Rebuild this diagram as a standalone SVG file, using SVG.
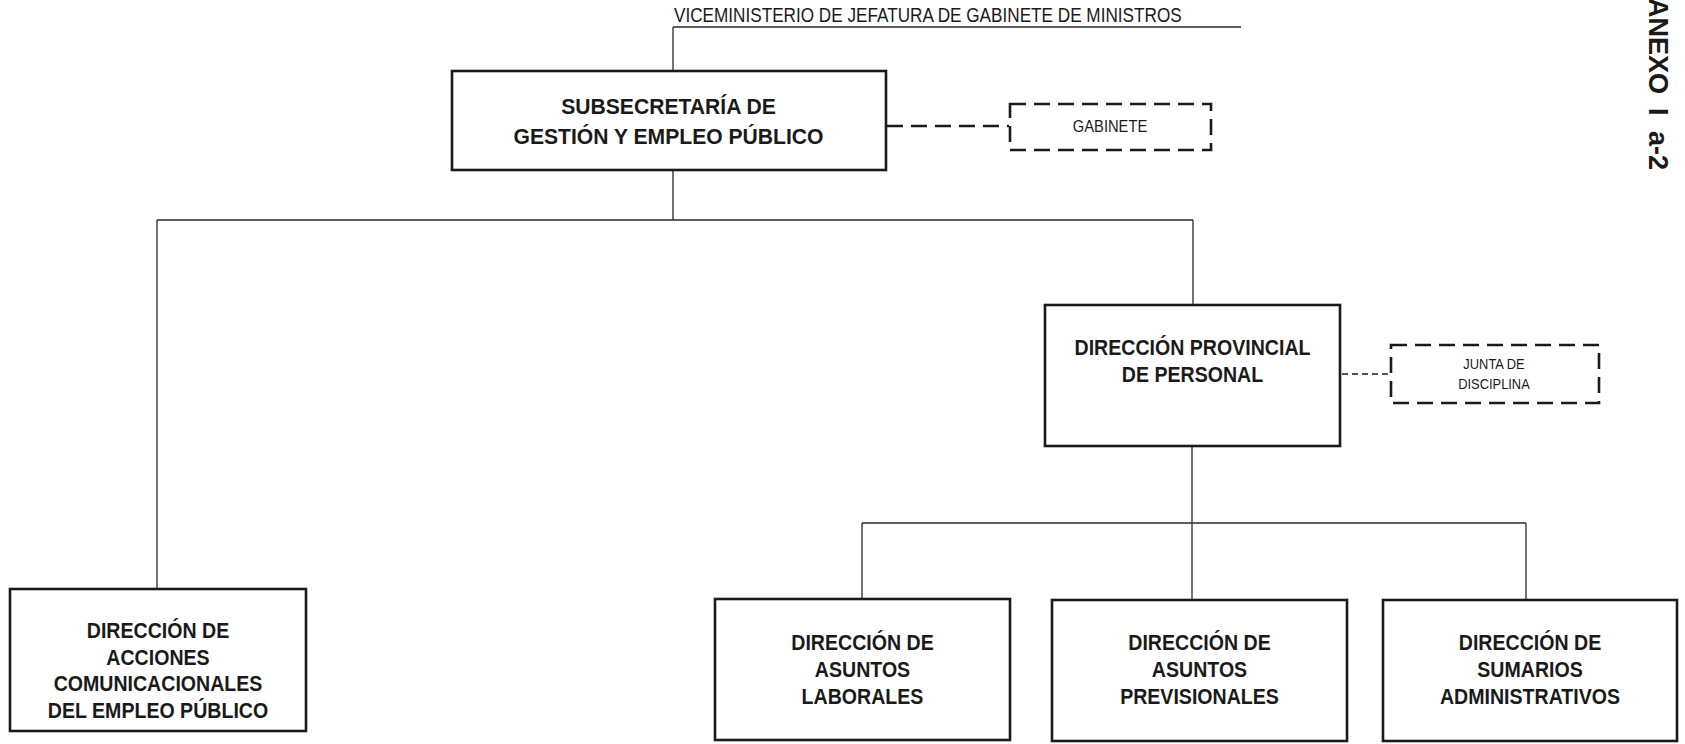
<svg xmlns="http://www.w3.org/2000/svg" width="1685" height="744" viewBox="0 0 1685 744">
<style>
.box{fill:#fff;stroke:#1a1a1a;stroke-width:2.6}
.dbox{fill:#fff;stroke:#1a1a1a;stroke-width:2.6;stroke-dasharray:16 8}
.ln{fill:none;stroke:#2a2a2a;stroke-width:1.3}
.dln{fill:none;stroke:#1a1a1a;stroke-width:2.6;stroke-dasharray:16 8}
.dln2{fill:none;stroke:#1a1a1a;stroke-width:1.3;stroke-dasharray:6 4}
.t{font-family:"Liberation Sans",Arial,sans-serif;font-weight:bold;font-size:22px;fill:#1a1a1a;text-anchor:middle}
.s{font-family:"Liberation Sans",Arial,sans-serif;font-size:16px;fill:#1a1a1a;text-anchor:middle}
</style>
<rect width="1685" height="744" fill="#fff"/>
<g id="connectors">
<path class="ln" d="M673,27 H1241 M673,27 V71"/>
<path class="ln" d="M673,170 V220 M157,220 H1193 M157,220 V589 M1193,220 V305"/>
<path class="ln" d="M1192,447 V523 M862,523 H1526 M862,523 V599 M1192,523 V599 M1526,523 V599"/>
<path class="dln" d="M887,126 H1009"/>
<path class="dln2" d="M1342,374 H1391"/>
</g>
<g id="viceministerio">
<text class="s" transform="translate(674,22) scale(0.88,1)" x="0" y="0" style="text-anchor:start;font-size:19.5px">VICEMINISTERIO DE JEFATURA DE GABINETE DE MINISTROS</text>
</g>
<g id="subsecretaria">
<rect class="box" x="452" y="71" width="434" height="99"/>
<text class="t" transform="translate(668.5,0) scale(0.96,1)"><tspan x="0" y="114">SUBSECRETARÍA DE</tspan><tspan x="0" y="144">GESTIÓN Y EMPLEO PÚBLICO</tspan></text>
</g>
<g id="gabinete">
<rect class="dbox" x="1010" y="104" width="201" height="46"/>
<text class="s" transform="translate(1110,132) scale(0.92,1)" x="0" y="0">GABINETE</text>
</g>
<g id="provincial">
<rect class="box" x="1045" y="305" width="295" height="141"/>
<text class="t" transform="translate(1192.5,0) scale(0.89,1)"><tspan x="0" y="355">DIRECCIÓN PROVINCIAL</tspan><tspan x="0" y="382">DE PERSONAL</tspan></text>
</g>
<g id="junta">
<rect class="dbox" x="1391" y="345" width="208" height="58"/>
<text class="s" transform="translate(1494,0) scale(0.92,1)" style="font-size:14px"><tspan x="0" y="369">JUNTA DE</tspan><tspan x="0" y="389">DISCIPLINA</tspan></text>
</g>
<g id="acciones">
<rect class="box" x="10" y="589" width="296" height="142"/>
<text class="t" transform="translate(158,0) scale(0.89,1)"><tspan x="0" y="638">DIRECCIÓN DE</tspan><tspan x="0" y="665">ACCIONES</tspan><tspan x="0" y="691">COMUNICACIONALES</tspan><tspan x="0" y="718">DEL EMPLEO PÚBLICO</tspan></text>
</g>
<g id="laborales">
<rect class="box" x="715" y="599" width="295" height="141"/>
<text class="t" transform="translate(862.5,0) scale(0.89,1)"><tspan x="0" y="650">DIRECCIÓN DE</tspan><tspan x="0" y="677">ASUNTOS</tspan><tspan x="0" y="704">LABORALES</tspan></text>
</g>
<g id="previsionales">
<rect class="box" x="1052" y="600" width="295" height="141"/>
<text class="t" transform="translate(1199.5,0) scale(0.89,1)"><tspan x="0" y="650">DIRECCIÓN DE</tspan><tspan x="0" y="677">ASUNTOS</tspan><tspan x="0" y="704">PREVISIONALES</tspan></text>
</g>
<g id="sumarios">
<rect class="box" x="1383" y="600" width="294" height="141"/>
<text class="t" transform="translate(1530,0) scale(0.89,1)"><tspan x="0" y="650">DIRECCIÓN DE</tspan><tspan x="0" y="677">SUMARIOS</tspan><tspan x="0" y="704">ADMINISTRATIVOS</tspan></text>
</g>
<g id="anexo">
<text transform="translate(1649,-2) rotate(90)" y="0" style="font-family:'Liberation Sans',Arial,sans-serif;font-weight:bold;font-size:27px;fill:#1a1a1a"><tspan x="0">ANEXO</tspan><tspan x="110">I</tspan><tspan x="133">a-2</tspan></text>
</g>
</svg>
